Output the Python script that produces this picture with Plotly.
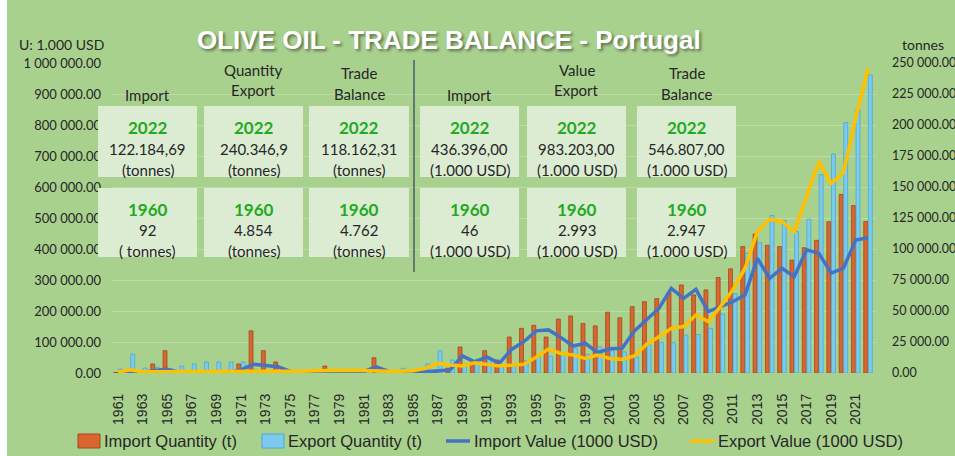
import plotly.graph_objects as go

# ---------------- data ----------------
years = list(range(1961, 2023))

import_qty = [500, 300, 300, 7300, 18000, 300, 300, 300, 300, 400,
              7300, 34000, 18000, 8900, 1000, 500, 300, 5600, 300, 300,
              500, 12300, 800, 300, 300, 500, 1500, 3800, 21000, 7000,
              18000, 10500, 29000, 36000, 38500, 29000, 43500, 46000, 40000, 38000,
              49000, 44500, 53500, 57500, 60000, 65000, 71000, 63000, 67000, 77000,
              84000, 102000, 112000, 103000, 102000, 91000, 101000, 107000, 122000, 144000,
              135000, 122185]

export_qty = [3200, 15300, 4000, 4600, 3500, 5600, 7300, 8900, 8900, 8900,
              8900, 3000, 2000, 1500, 500, 300, 300, 300, 300, 300,
              300, 500, 300, 3800, 800, 7300, 18000, 10500, 6000, 11000,
              12000, 5000, 5500, 10000, 13000, 13500, 15500, 20000, 15000, 21000,
              18000, 17000, 13000, 22600, 24700, 24700, 30600, 31000, 36000, 47600,
              64000, 96500, 105000, 127000, 123000, 114000, 124000, 160000, 176600, 202000,
              212700, 240347]

import_val = [500, 1000, 2000, 8000, 12000, 2000, 1500, 1500, 1500, 2000,
              10000, 28000, 24000, 20000, 5000, 3000, 2000, 5000, 3000, 3000,
              5000, 20000, 5000, 3000, 3000, 4000, 6000, 10000, 55000, 36000,
              52000, 31000, 76000, 101000, 136000, 139000, 115000, 87000, 96000, 66000,
              78000, 80000, 136000, 171000, 209000, 273000, 241000, 270000, 198000, 214000,
              230000, 252000, 370000, 305000, 338000, 311000, 397000, 386000, 322000, 338000,
              429000, 436396]

export_val = [3000, 10000, 4000, 4000, 5000, 5000, 5000, 5000, 6000, 6000,
              6000, 6000, 6000, 6000, 6000, 6000, 7000, 8000, 9000, 9000,
              8000, 6000, 6000, 6000, 7000, 15000, 31000, 26000, 23000, 33000,
              29000, 23000, 25000, 28000, 51000, 77000, 63000, 58000, 47000, 58000,
              47000, 44000, 55000, 93000, 117000, 144000, 150000, 187000, 166000, 214000,
              268000, 338000, 456000, 496000, 488000, 456000, 569000, 682000, 612000, 646000,
              822000, 983203]

tick_years = list(range(1961, 2022, 2))
tick_labels = [str(y) for y in tick_years]

series_names = ["Import Quantity (t)", "Export Quantity (t)",
                "Import Value (1000 USD)", "Export Value (1000 USD)"]
series_colors = ["#d8662e", "#7ccbee", "#4472c4", "#ffc000"]

box_headers = [["Import"], ["Quantity", "Export"], ["Trade", "Balance"],
               ["Import"], ["Value", "Export"], ["Trade", "Balance"]]
box_2022 = ["122.184,69", "240.346,9", "118.162,31", "436.396,00", "983.203,00", "546.807,00"]
box_1960 = ["92", "4.854", "4.762", "46", "2.993", "2.947"]
units_2022 = ["(tonnes)", "(tonnes)", "(tonnes)", "(1.000 USD)", "(1.000 USD)", "(1.000 USD)"]
units_1960 = ["( tonnes)", "(tonnes)", "(tonnes)", "(1.000 USD)", "(1.000 USD)", "(1.000 USD)"]

# ---------------- layout helpers ----------------
W, H = 955, 456
L, R, T, B = 112, 876, 63, 373


def px(x):
    return (x - L) / (R - L)


def py(y):
    return (B - y) / (B - T)


GREEN = "#a9d18e"
GRID = "rgba(255,255,255,0.22)"
TXT = "#262626"
FONT = "Lato, Open Sans, sans-serif"
NARROW = "Liberation Sans Narrow, Liberation Sans, Arial, sans-serif"

fig = go.Figure()
fig.add_trace(go.Bar(x=years, y=import_qty, name=series_names[0], yaxis="y",
                     marker=dict(color=series_colors[0], line=dict(color="#a4481c", width=0.8))))
fig.add_trace(go.Bar(x=years, y=export_qty, name=series_names[1], yaxis="y",
                     marker=dict(color=series_colors[1], line=dict(color="#4aa7d6", width=0.8))))
fig.add_trace(go.Scatter(x=years, y=import_val, name=series_names[2], yaxis="y2",
                         mode="lines", line=dict(color=series_colors[2], width=3.5)))
fig.add_trace(go.Scatter(x=years, y=export_val, name=series_names[3], yaxis="y2",
                         mode="lines", line=dict(color=series_colors[3], width=3.5)))

shapes = []
annotations = []

# white strip on the left edge
shapes.append(dict(type="rect", xref="paper", yref="paper",
                   x0=px(-5), x1=px(7), y0=py(470), y1=py(-10),
                   fillcolor="white", line=dict(width=0), layer="below"))

# boxes
cols = [(98, 197), (204, 303), (309, 409), (420, 519), (527, 626), (637, 736)]
rows = [(106, 177), (188, 257)]
for (x0, x1) in cols:
    for (y0, y1) in rows:
        shapes.append(dict(type="rect", xref="paper", yref="paper",
                           x0=px(x0), x1=px(x1), y0=py(y1), y1=py(y0),
                           fillcolor="#dcecd3", line=dict(width=0), layer="above"))

# separator
shapes.append(dict(type="line", xref="paper", yref="paper",
                   x0=px(414), x1=px(414), y0=py(272), y1=py(60),
                   line=dict(color="#4a5a6a", width=1.5), layer="above"))


def ann(text, x, y, size=15, color=TXT, bold=False, xanchor="center", family=FONT, **kw):
    if bold:
        text = "<b>" + text + "</b>"
    annotations.append(dict(text=text, x=px(x), y=py(y), xref="paper", yref="paper",
                            showarrow=False, xanchor=xanchor, yanchor="middle",
                            font=dict(family=family, size=size, color=color, **kw)))


for i, (x0, x1) in enumerate(cols):
    cx = (x0 + x1) / 2
    hdr = box_headers[i]
    if len(hdr) == 1:
        ann(hdr[0], cx, 95, size=15)
    else:
        top_y = 70 if hdr[0] != "Trade" else 73
        bot_y = 90 if hdr[0] != "Trade" else 94
        ann(hdr[0], cx, top_y, size=15)
        ann(hdr[1], cx, bot_y, size=15)
    ann("2022", cx, 127, size=17, color="#22aa22", bold=True)
    ann(box_2022[i], cx, 149, size=15)
    ann(units_2022[i], cx, 170, size=15)
    ann("1960", cx, 209, size=17, color="#22aa22", bold=True)
    ann(box_1960[i], cx, 230, size=15)
    ann(units_1960[i], cx, 251, size=15)

# title and unit labels
ann("OLIVE OIL - TRADE BALANCE - Portugal", 449, 40, size=26, color="white", bold=True,
    family="Liberation Sans, Arial, sans-serif", shadow="2px 2px 3px rgba(0,0,0,0.45)")
ann("U: 1.000 USD", 17, 45, size=14, xanchor="left")
ann("tonnes", 900, 45, size=14, xanchor="left")

# custom legend
leg_y = 441
leg_items = [(78, "rect"), (262, "rect"), (446, "line"), (690, "line")]
leg_edges = ["#a4481c", "#4aa7d6", None, None]
for k, (lx, kind) in enumerate(leg_items):
    if kind == "rect":
        shapes.append(dict(type="rect", xref="paper", yref="paper",
                           x0=px(lx), x1=px(lx + 22), y0=py(leg_y + 7), y1=py(leg_y - 7),
                           fillcolor=series_colors[k], line=dict(color=leg_edges[k], width=1),
                           layer="above"))
    else:
        shapes.append(dict(type="line", xref="paper", yref="paper",
                           x0=px(lx), x1=px(lx + 24), y0=py(leg_y), y1=py(leg_y),
                           line=dict(color=series_colors[k], width=3.5), layer="above"))
    ann(series_names[k], lx + (24 if kind == "rect" else 26), leg_y, size=16.5,
        xanchor="left", family=NARROW)

tickfont_left = dict(family=FONT, size=13, color=TXT)
tickfont_right = dict(family=FONT, size=12.5, color=TXT)

fig.update_layout(
    width=W, height=H,
    margin=dict(l=L, r=W - R, t=T, b=H - B, autoexpand=False),
    paper_bgcolor=GREEN, plot_bgcolor=GREEN,
    separators=". ",
    barmode="group", bargap=0.25, bargroupgap=0.15,
    xaxis=dict(range=[1960.5, 2022.65], tickmode="array", tickvals=tick_years, ticktext=tick_labels,
               tickangle=-90, showgrid=False, zeroline=False, showline=False, ticks="",
               tickfont=dict(family="Liberation Sans, Arial, sans-serif", size=14, color=TXT),
               ticklabelstandoff=17),
    yaxis=dict(side="right", range=[0, 250000], dtick=25000, tickformat=",.2f",
               showgrid=True, gridcolor=GRID, gridwidth=1, zeroline=False, showline=False,
               ticks="", tickfont=tickfont_right, ticklabelstandoff=15),
    yaxis2=dict(side="left", overlaying="y", range=[0, 1000000], dtick=100000, tickformat=",.2f",
                showgrid=False, zeroline=False, showline=False, ticks="",
                tickfont=tickfont_left, ticklabelstandoff=10),
    shapes=shapes,
    annotations=annotations,
    showlegend=False,
)

fig.write_html("out.html", config={"displayModeBar": False},
               post_script="document.body.style.margin='0';document.body.style.overflow='hidden';")
